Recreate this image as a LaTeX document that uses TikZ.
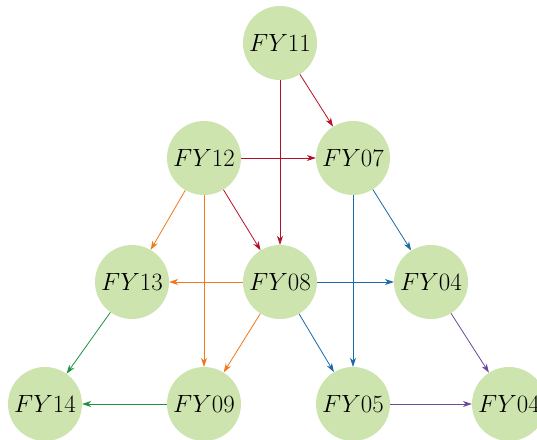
\documentclass[tikz,border=0pt]{standalone}
\usetikzlibrary{arrows.meta}
\definecolor{nodefill}{HTML}{CDE4AE}
\definecolor{cred}{HTML}{B40F28}
\definecolor{corange}{HTML}{F07818}
\definecolor{cblue}{HTML}{1868AA}
\definecolor{cgreen}{HTML}{1E9040}
\definecolor{cpurple}{HTML}{6A4A9C}
\tikzset{
  fy/.style={circle,fill=nodefill,draw=none,minimum size=74pt,inner sep=0pt,font=\fontsize{25}{30}\selectfont},
  edge/.style={-{Stealth[length=9pt,width=6pt]},line width=0.8pt},
}
\begin{document}
\begin{tikzpicture}[x=1pt,y=-1pt]
\useasboundingbox (0,0) rectangle (537,439);
\node[fy] (n11) at (280,43) {$FY11$};
\node[fy] (n12) at (204,158) {$FY12$};
\node[fy] (n07) at (353,158) {$FY07$};
\node[fy] (n13) at (132,282) {$FY13$};
\node[fy] (n08) at (280,282) {$FY08$};
\node[fy] (n04) at (431,282) {$FY04$};
\node[fy] (n14) at (45,404) {$FY14$};
\node[fy] (n09) at (204,404) {$FY09$};
\node[fy] (n05) at (353,404) {$FY05$};
\node[fy] (n04b) at (509,404) {$FY04$};
\draw[edge,cred] (n11) -- (n07);
\draw[edge,cred] (n11) -- (n08);
\draw[edge,cred] (n12) -- (n07);
\draw[edge,cred] (n12) -- (n08);
\draw[edge,corange] (n12) -- (n13);
\draw[edge,corange] (n12) -- (n09);
\draw[edge,corange] (n08) -- (n13);
\draw[edge,corange] (n08) -- (n09);
\draw[edge,cblue] (n07) -- (n04);
\draw[edge,cblue] (n07) -- (n05);
\draw[edge,cblue] (n08) -- (n04);
\draw[edge,cblue] (n08) -- (n05);
\draw[edge,cgreen] (n13) -- (n14);
\draw[edge,cgreen] (n09) -- (n14);
\draw[edge,cpurple] (n04) -- (n04b);
\draw[edge,cpurple] (n05) -- (n04b);
\end{tikzpicture}
\end{document}
